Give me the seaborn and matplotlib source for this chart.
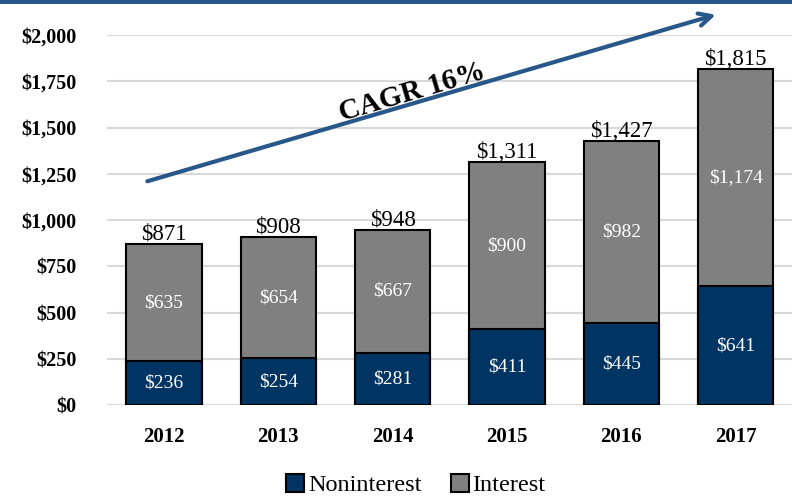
import numpy as np
import pandas as pd
import seaborn as sns
import matplotlib.pyplot as plt
from matplotlib.patches import Patch

# data
years = ["2012", "2013", "2014", "2015", "2016", "2017"]
noninterest = [236, 254, 281, 411, 445, 641]
interest = [635, 654, 667, 900, 982, 1174]
totals = [871, 908, 948, 1311, 1427, 1815]

NAVY = "#003462"
GRAY = "#808080"
ARROW = "#28578a"
SERIF = "Liberation Serif"

df = pd.DataFrame({"year": years, "Noninterest": noninterest, "Interest": interest,
                   "Total": totals})

sns.set_style("white")
plt.rcParams["font.family"] = [SERIF, "DejaVu Serif"]
plt.rcParams["text.color"] = "black"
plt.rcParams["xtick.color"] = "black"
plt.rcParams["ytick.color"] = "black"

fig = plt.figure(figsize=(7.92, 5.0), dpi=100)
ax = fig.add_axes([0.135, 0.19, 0.866, 0.74])

# gray total bar first, navy noninterest bar drawn over its lower part
sns.barplot(data=df, x="year", y="Total", color=GRAY, saturation=1, width=0.66,
            edgecolor="black", linewidth=1.5, ax=ax, zorder=3)
sns.barplot(data=df, x="year", y="Noninterest", color=NAVY, saturation=1, width=0.66,
            edgecolor="black", linewidth=1.5, ax=ax, zorder=4)

ax.set_ylim(0, 2000)
ax.set_xlim(-0.5, 5.5)
ax.set_yticks(np.arange(0, 2001, 250))
ax.set_yticklabels([f"${v:,}" for v in range(0, 2001, 250)])
ax.yaxis.grid(True, color="#d9d9d9", linewidth=1.5, zorder=0)
ax.set_axisbelow(True)
sns.despine(ax=ax, left=True, bottom=True)
ax.set_xlabel("")
ax.set_ylabel("")
ax.tick_params(axis="y", length=0, pad=22, labelsize=14.5)
ax.tick_params(axis="x", length=0, pad=16, labelsize=15)
for lab in ax.get_yticklabels() + ax.get_xticklabels():
    lab.set_fontweight("bold")

# segment labels and totals
for i, (n, it, t) in enumerate(zip(noninterest, interest, totals)):
    ax.text(i, n / 2, f"${n:,}", ha="center", va="center", color="white",
            fontsize=14, zorder=5)
    ax.text(i, n + it / 2, f"${it:,}", ha="center", va="center", color="white",
            fontsize=14, zorder=5)
    ax.text(i, t - 5, f"${t:,}", ha="center", va="bottom", color="black",
            fontsize=16.5, zorder=5)

# growth arrow
ax.annotate("", xy=(4.85, 2114), xytext=(-0.17, 1205), xycoords="data",
            arrowprops=dict(arrowstyle="->,head_length=0.9,head_width=0.45",
                            color=ARROW, lw=3), annotation_clip=False, zorder=6)
ax.text(2.17, 1690, "CAGR 16%", rotation=16.5, ha="center", va="center",
        fontsize=21, fontweight="bold", color="black", rotation_mode="anchor", zorder=6)

# top border line
fig.add_artist(plt.Rectangle((0, 0.992), 1, 0.008, transform=fig.transFigure,
                             color=ARROW, lw=0))

handles = [Patch(facecolor=NAVY, edgecolor="black", linewidth=1.5, label="Noninterest"),
           Patch(facecolor=GRAY, edgecolor="black", linewidth=1.5, label="Interest")]
fig.legend(handles=handles, loc="lower center", bbox_to_anchor=(0.525, -0.036), ncol=2,
           frameon=False, fontsize=17.5, handlelength=0.75, handleheight=0.75,
           handletextpad=0.15, columnspacing=1.2)

fig.savefig("out.png", dpi=100)
